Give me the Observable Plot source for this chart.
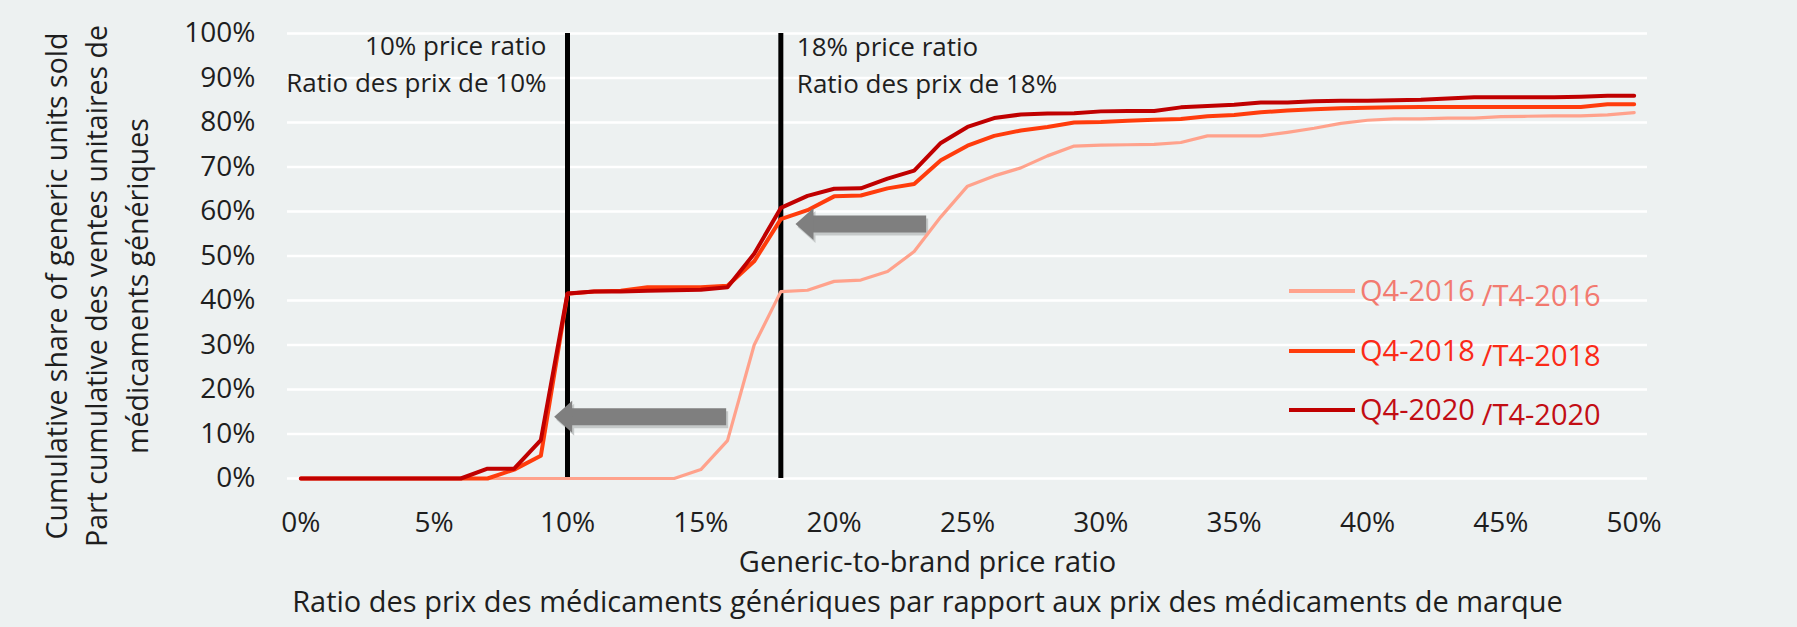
<!DOCTYPE html>
<html>
<head>
<meta charset="utf-8">
<script src="https://cdn.jsdelivr.net/npm/d3@7"></script>
<script src="https://cdn.jsdelivr.net/npm/@observablehq/plot@0.6"></script>
<style>
  html, body { margin: 0; padding: 0; background: #edf1f1; }
  #wrap { position: relative; width: 1797px; height: 627px; background: #edf1f1; font-family: "Open Sans", sans-serif; }
  #wrap svg { position: absolute; left: 0; top: 0; }
  .lg { position: absolute; left: 1289px; height: 40px; display: flex; align-items: center; font-size: 29px; white-space: nowrap; }
  .lg .sw { width: 66px; height: 4px; }
  .lg .q { margin-left: 5px; position: relative; top: -2px; }
  .lg .t { margin-left: 7px; position: relative; top: 3px; }
</style>
</head>
<body>
<div id="wrap"></div>
<script>
// ---- data ----
const priceRatio = [0,1,2,3,4,5,6,7,8,9,10,11,12,13,14,15,16,17,18,19,20,21,22,23,24,25,26,27,28,29,30,31,32,33,34,35,36,37,38,39,40,41,42,43,44,45,46,47,48,49,50];
const q4_2016 = [0,0,0,0,0,0,0,0,0,0, 0,0,0,0,0,2,8.5,30,42,42.3, 44.3,44.6,46.5,51,58.8,65.7,68,69.8,72.5,74.7, 74.9,75,75.1,75.5,77,77,77,77.8,78.7,79.8, 80.5,80.8,80.8,81,81,81.3,81.4,81.5,81.5,81.7, 82.2];
const q4_2018 = [0,0,0,0,0,0,0,0,2,5.1, 41.5,42,42.2,43,43,43,43.3,48.8,58.3,60.3, 63.4,63.6,65.2,66.2,71.5,74.8,77,78.2,79,80, 80.1,80.4,80.6,80.8,81.4,81.7,82.3,82.7,83,83.2, 83.3,83.4,83.5,83.5,83.5,83.5,83.5,83.5,83.5,84.1, 84.1];
const q4_2020 = [0,0,0,0,0,0,0,2.2,2.2,8.6, 41.6,42,42,42.2,42.3,42.4,43,50.5,60.8,63.5, 65.1,65.2,67.4,69.2,75.4,79,81,81.8,82,82.1, 82.5,82.6,82.6,83.4,83.7,84,84.5,84.5,84.8,84.9, 84.9,85,85.1,85.4,85.7,85.7,85.7,85.7,85.8,86, 86];
const seriesNames = ["Q4-2016", "Q4-2018", "Q4-2020"];
const seriesFrench = ["/T4-2016", "/T4-2018", "/T4-2020"];
const xTicks = [0,5,10,15,20,25,30,35,40,45,50];
const yTicks = [0,10,20,30,40,50,60,70,80,90,100];
const markerRatios = [10, 18];
const arrowTail = [15.95, 23.45];
const arrowTip = [9.5, 18.55];
const arrowLevel = [13.9, 57.2];

// ---- build tables ----
const seriesValues = [q4_2016, q4_2018, q4_2020];
const rows = seriesNames.flatMap((s, k) => priceRatio.map((r, i) => ({series: s, ratio: r, value: seriesValues[k][i]})));
const arrows = arrowTail.map((t, i) => ({tail: t, tip: arrowTip[i], y: arrowLevel[i]}));

// ---- styles ----
const lineColor = {"Q4-2016": "#ffa28c", "Q4-2018": "#ff3c0c", "Q4-2020": "#c00000"};
const lineWidth = {"Q4-2016": 3.2, "Q4-2018": 4, "Q4-2020": 4};
const textColor = {"Q4-2016": "#f27a70", "Q4-2018": "#fb2a18", "Q4-2020": "#c20d14"};
const W = 1797, H = 627, mL = 287, mR = 150, mT = 33, mB = 149;
const xDomain = [-0.5, 50.5];
const pxPerUnit = (W - mL - mR) / (xDomain[1] - xDomain[0]);
const headLen = 18, headHalf = 16;
const headData = (headLen - 1) / pxPerUnit;
const arrowHead = {
  draw(ctx) {
    ctx.moveTo(0, 0);
    ctx.lineTo(headLen, -headHalf);
    ctx.lineTo(headLen, headHalf);
    ctx.closePath();
  }
};
const gray = "#7f7f7f", shadow = "#c5c9c9";
const yTitle = {frameAnchor: "left", textAnchor: "middle", lineAnchor: "middle", rotate: -90, dy: 30, fontSize: 28.5, fill: "#1e1e1e"};

const chart = Plot.plot({
  width: W, height: H,
  marginLeft: mL, marginRight: mR, marginTop: mT, marginBottom: mB,
  style: {background: "none", fontFamily: "'Open Sans', sans-serif", fontSize: "28px", color: "#1e1e1e", overflow: "visible"},
  x: {domain: xDomain, ticks: xTicks, tickFormat: d => d + "%", tickSize: 0, tickPadding: 34, label: null},
  y: {domain: [0, 100], ticks: yTicks, tickFormat: d => d + "%", tickSize: 0, tickPadding: 32, label: null},
  marks: [
    Plot.ruleY(yTicks, {stroke: "#ffffff", strokeWidth: 2.5}),
    // arrows shadow
    Plot.link(arrows, {x1: "tail", x2: d => d.tip + headData, y1: "y", y2: "y", stroke: shadow, strokeWidth: 17, strokeLinecap: "butt", dx: 2, dy: 3}),
    Plot.dot(arrows, {x: "tip", y: "y", symbol: arrowHead, r: 1, fill: shadow, stroke: "none", dx: 2, dy: 3}),
    // vertical marker lines
    Plot.ruleX(markerRatios, {y1: 0, y2: 100, stroke: "#000000", strokeWidth: 5}),
    // series lines
    ...seriesNames.map(s => Plot.line(rows.filter(d => d.series === s), {x: "ratio", y: "value", stroke: lineColor[s], strokeWidth: lineWidth[s], strokeLinejoin: "round"})),
    // arrows
    Plot.link(arrows, {x1: "tail", x2: d => d.tip + headData, y1: "y", y2: "y", stroke: gray, strokeWidth: 17, strokeLinecap: "butt"}),
    Plot.dot(arrows, {x: "tip", y: "y", symbol: arrowHead, r: 1, fill: gray, stroke: "none"}),
    // annotations
    Plot.text(["10% price ratio", "Ratio des prix de 10%"], {x: markerRatios[0], y: [97.1, 88.8], text: d => d, textAnchor: "end", dx: -21, fontSize: 26, fill: "#1e1e1e"}),
    Plot.text(["18% price ratio", "Ratio des prix de 18%"], {x: markerRatios[1], y: [96.8, 88.6], text: d => d, textAnchor: "start", dx: 16, fontSize: 26, fill: "#1e1e1e"}),
    // axis titles
    Plot.text(["Generic-to-brand price ratio"], {frameAnchor: "bottom", textAnchor: "middle", lineAnchor: "middle", dx: -40, dy: 84, fontSize: 29, fill: "#1e1e1e"}),
    Plot.text(["Ratio des prix des médicaments génériques par rapport aux prix des médicaments de marque"], {frameAnchor: "bottom", textAnchor: "middle", lineAnchor: "middle", dx: -40, dy: 124, fontSize: 29, fill: "#1e1e1e"}),
    Plot.text(["Cumulative share of generic units sold"], {...yTitle, dx: -230}),
    Plot.text(["Part cumulative des ventes unitaires de"], {...yTitle, dx: -190}),
    Plot.text(["médicaments génériques"], {...yTitle, dx: -149})
  ]
});

const wrap = document.getElementById("wrap");
wrap.appendChild(chart);

// legend (inside plot area, right side)
const legendTop = [271, 331, 390];
seriesNames.forEach((s, i) => {
  const row = document.createElement("div");
  row.className = "lg";
  row.style.top = legendTop[i] + "px";
  row.innerHTML = `<span class="sw" style="background:${lineColor[s]}"></span><span class="q" style="color:${textColor[s]}">${s}</span><span class="t" style="color:${textColor[s]}">${seriesFrench[i]}</span>`;
  wrap.appendChild(row);
});
</script>
</body>
</html>
